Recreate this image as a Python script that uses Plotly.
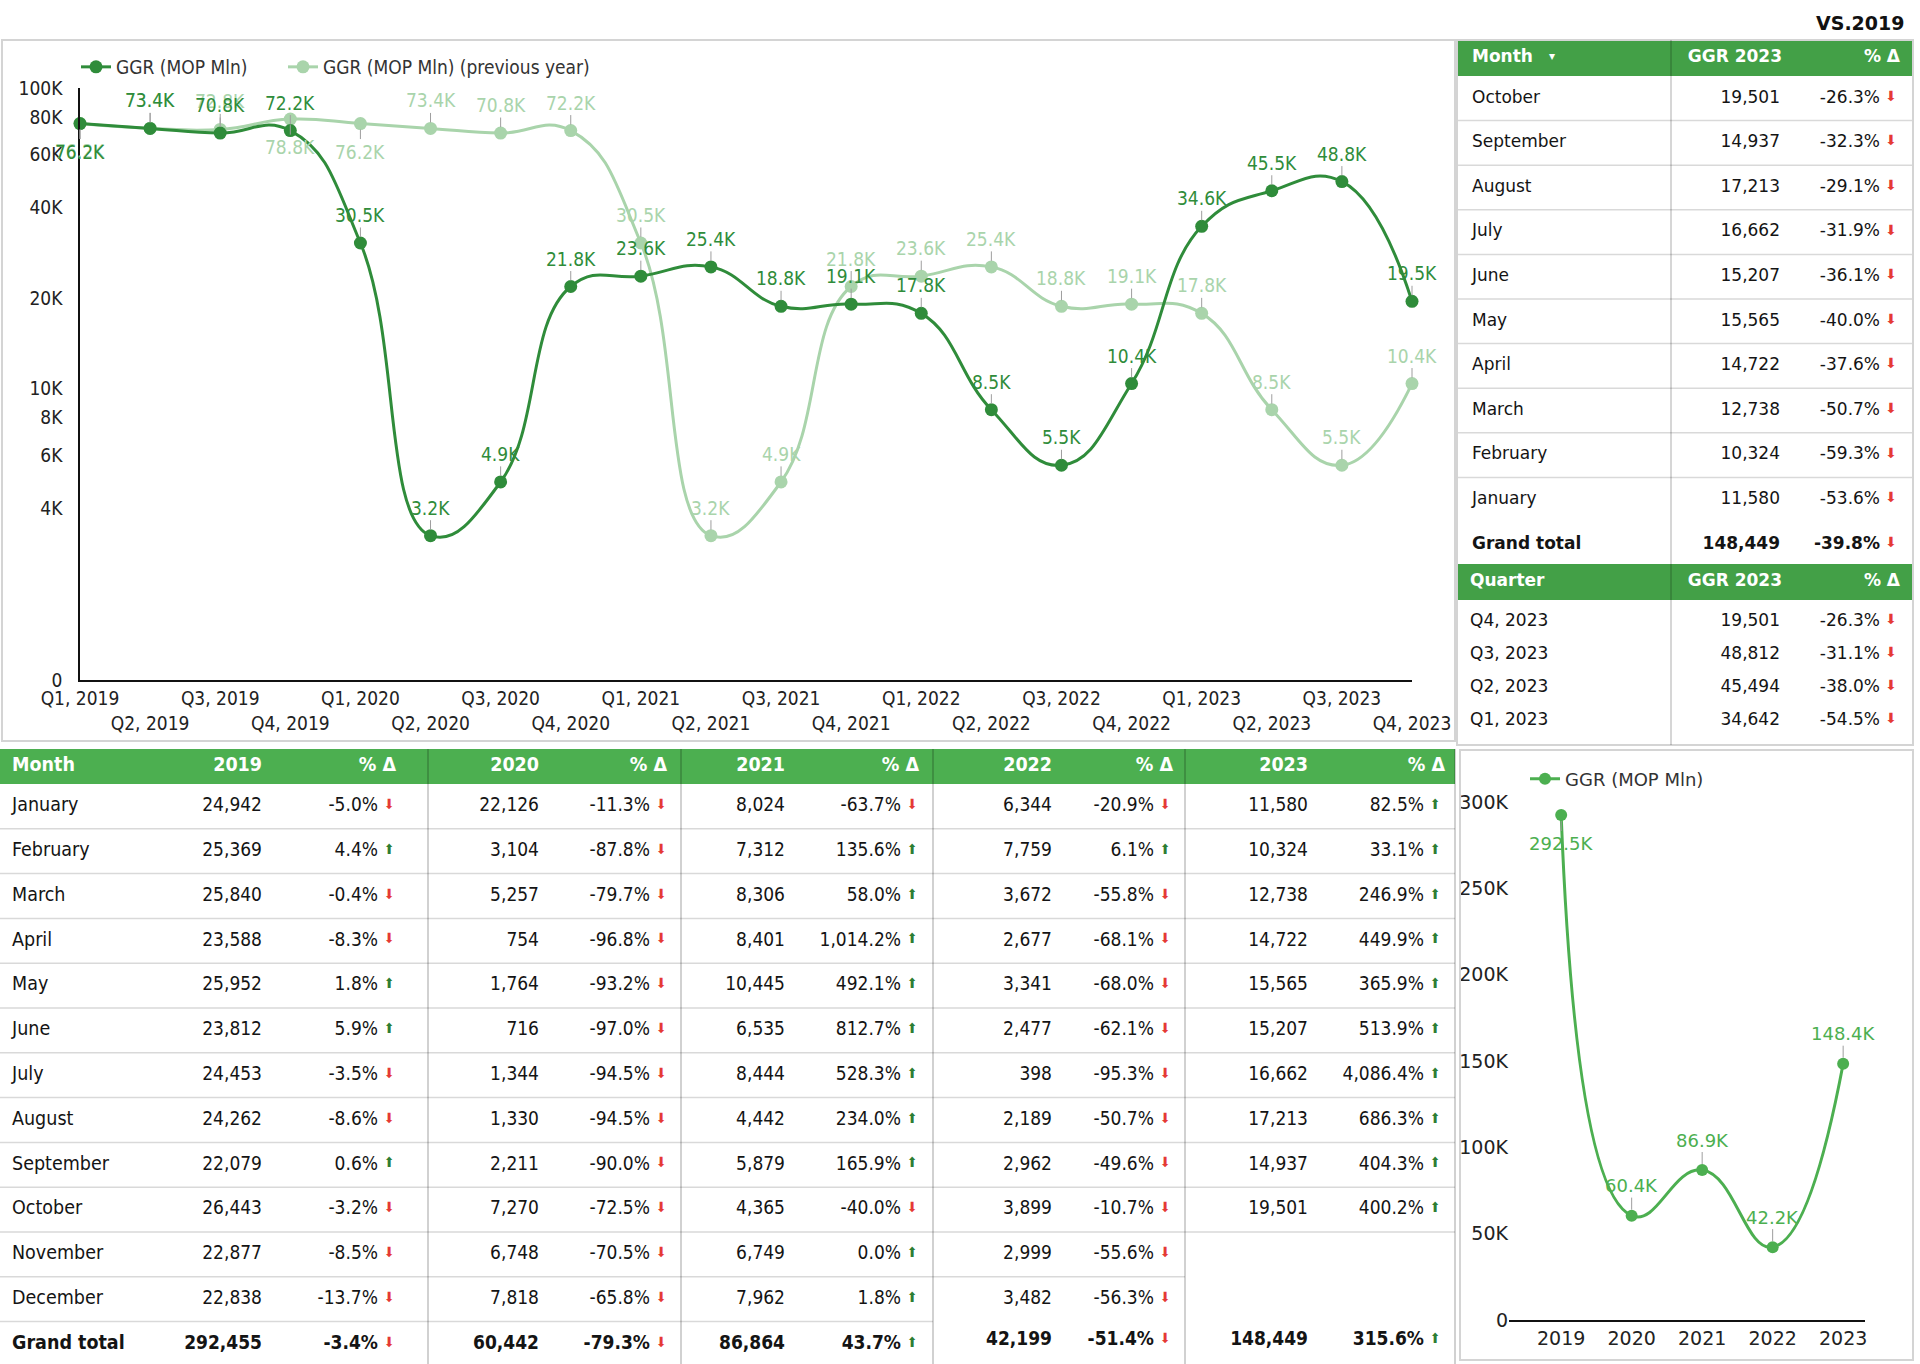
import math
import plotly.graph_objects as go

# ---------------- DATA ----------------
quarters = ["Q1, 2019", "Q2, 2019", "Q3, 2019", "Q4, 2019",
            "Q1, 2020", "Q2, 2020", "Q3, 2020", "Q4, 2020",
            "Q1, 2021", "Q2, 2021", "Q3, 2021", "Q4, 2021",
            "Q1, 2022", "Q2, 2022", "Q3, 2022", "Q4, 2022",
            "Q1, 2023", "Q2, 2023", "Q3, 2023", "Q4, 2023"]
ggr_q = [76151, 73352, 70794, 72158, 30487, 3234, 4885, 21836,
         23642, 25381, 18765, 19076, 17775, 8495, 5549, 10380,
         34642, 45494, 48812, 19501]
ggr_prev_q = [76200, 73400, 72800, 78800, 76151, 73352, 70794, 72158,
              30487, 3234, 4885, 21836, 23642, 25381, 18765, 19076,
              17775, 8495, 5549, 10380]
ggr_label_pos = ["below"] + ["above"] * 19
prev_label_pos = ["below", "above", "above", "below", "below"] + ["above"] * 15
ytick_vals = [1070, 4000, 6000, 8000, 10000, 20000, 40000, 60000, 80000, 100000]
ytick_text = ["0", "4K", "6K", "8K", "10K", "20K", "40K", "60K", "80K", "100K"]

years = ["2019", "2020", "2021", "2022", "2023"]
ggr_year = [292455, 60442, 86864, 42199, 148449]
year_label_pos = ["below", "above", "above", "above", "above"]
y2tick_vals = [0, 50000, 100000, 150000, 200000, 250000, 300000]
y2tick_text = ["0", "50K", "100K", "150K", "200K", "250K", "300K"]

tr_headers = ["Month", "GGR 2023", "% Δ"]
tr_months = ["October", "September", "August", "July", "June", "May",
             "April", "March", "February", "January"]
tr_ggr = [19501, 14937, 17213, 16662, 15207, 15565, 14722, 12738, 10324, 11580]
tr_pct = [-26.3, -32.3, -29.1, -31.9, -36.1, -40.0, -37.6, -50.7, -59.3, -53.6]
tr_total = 148449
tr_total_pct = -39.8
tq_headers = ["Quarter", "GGR 2023", "% Δ"]
tr_quarters = ["Q4, 2023", "Q3, 2023", "Q2, 2023", "Q1, 2023"]
tr_q_ggr = [19501, 48812, 45494, 34642]
tr_q_pct = [-26.3, -31.1, -38.0, -54.5]

months = ["January", "February", "March", "April", "May", "June", "July",
          "August", "September", "October", "November", "December"]
table_years = ["2019", "2020", "2021", "2022", "2023"]
v2019 = [24942, 25369, 25840, 23588, 25952, 23812, 24453, 24262, 22079, 26443, 22877, 22838]
p2019 = [-5.0, 4.4, -0.4, -8.3, 1.8, 5.9, -3.5, -8.6, 0.6, -3.2, -8.5, -13.7]
v2020 = [22126, 3104, 5257, 754, 1764, 716, 1344, 1330, 2211, 7270, 6748, 7818]
p2020 = [-11.3, -87.8, -79.7, -96.8, -93.2, -97.0, -94.5, -94.5, -90.0, -72.5, -70.5, -65.8]
v2021 = [8024, 7312, 8306, 8401, 10445, 6535, 8444, 4442, 5879, 4365, 6749, 7962]
p2021 = [-63.7, 135.6, 58.0, 1014.2, 492.1, 812.7, 528.3, 234.0, 165.9, -40.0, 0.0, 1.8]
v2022 = [6344, 7759, 3672, 2677, 3341, 2477, 398, 2189, 2962, 3899, 2999, 3482]
p2022 = [-20.9, 6.1, -55.8, -68.1, -68.0, -62.1, -95.3, -50.7, -49.6, -10.7, -55.6, -56.3]
v2023 = [11580, 10324, 12738, 14722, 15565, 15207, 16662, 17213, 14937, 19501]
p2023 = [82.5, 33.1, 246.9, 449.9, 365.9, 513.9, 4086.4, 686.3, 404.3, 400.2]
year_totals = [292455, 60442, 86864, 42199, 148449]
year_total_pct = [-3.4, -79.3, 43.7, -51.4, 315.6]

# ---------------- STYLE ----------------
W, H = 1920, 1364
DARK = "#2f8c3a"
LIGHT = "#a9d4ab"
MID = "#4caf50"
HDR_TOP = "#43a047"
HDR_BOT = "#4caf50"
RED = "#e53935"
UPG = "#2e7d32"
TXT = "#141414"
COND = "DejaVu Sans Condensed, DejaVu Sans, sans-serif"
WIDE = "DejaVu Sans, Verdana, sans-serif"
GRID = "#d9d9d9"
FRAME = "#d4d4d4"
ARROW_SIZE = 14
B_FONT = 19
B_NAME_FONT = 19.5


def px_x(x):
    return x / W


def px_y(y):
    return 1 - y / H


def fmt_k(v):
    return f"{v/1000:.1f}K"


def fmt_pct(p):
    return f"{p:,.1f}%"


def arrow(p):
    return "⬆" if p >= 0 else "⬇"


def arrow_col(p):
    return UPG if p >= 0 else RED


fig = go.Figure()

# ---------------- TOP-LEFT CHART ----------------
fig.add_trace(go.Scatter(
    x=quarters, y=ggr_prev_q, name="GGR (MOP Mln) (previous year)",
    mode="lines+markers", line=dict(color=LIGHT, width=3, shape="spline", smoothing=1.3),
    marker=dict(size=13, color=LIGHT), cliponaxis=False, legend="legend3",
    xaxis="x", yaxis="y", hoverinfo="skip"))
fig.add_trace(go.Scatter(
    x=quarters, y=ggr_q, name="GGR (MOP Mln)",
    mode="lines+markers", line=dict(color=DARK, width=3, shape="spline", smoothing=1.3),
    marker=dict(size=13, color=DARK), cliponaxis=False, legend="legend",
    xaxis="x", yaxis="y", hoverinfo="skip"))

annotations = []
for series, poss, col in ((ggr_prev_q, prev_label_pos, LIGHT), (ggr_q, ggr_label_pos, DARK)):
    for q, v, pos in zip(quarters, series, poss):
        annotations.append(dict(
            x=q, y=math.log10(v), xref="x", yref="y", text=fmt_k(v),
            showarrow=True, arrowhead=0, arrowwidth=1, arrowcolor="#9e9e9e",
            ax=0, ay=-28 if pos == "above" else 28, standoff=6,
            font=dict(family=COND, size=19, color=col)))

xt_text = [q if i % 2 == 0 else "<br>" + q for i, q in enumerate(quarters)]

# ---------------- BOTTOM-RIGHT CHART ----------------
fig.add_trace(go.Scatter(
    x=years, y=ggr_year, name="GGR (MOP Mln)",
    mode="lines+markers", line=dict(color=MID, width=3, shape="spline", smoothing=1.3),
    marker=dict(size=12, color=MID), cliponaxis=False, legend="legend2",
    xaxis="x2", yaxis="y2", hoverinfo="skip"))
for i, (yr, v, pos) in enumerate(zip(years, ggr_year, year_label_pos)):
    annotations.append(dict(
        x=i, y=v, xref="x2", yref="y2", text=fmt_k(v),
        showarrow=True, arrowhead=0, arrowwidth=1, arrowcolor="#9e9e9e",
        ax=0, ay=-30 if pos == "above" else 28, standoff=6,
        font=dict(family=WIDE, size=18, color=MID)))

# ---------------- TABLES (text on a page-pixel overlay axis) ----------------
shapes = []


def add_text(xs, ys, texts, pos, size, color, family):
    fig.add_trace(go.Scatter(
        x=xs, y=ys, text=texts, mode="text", textposition=pos,
        textfont=dict(size=size, color=color, family=family),
        xaxis="x3", yaxis="y3", hoverinfo="skip", showlegend=False, cliponaxis=False))


def rect(x0, y0, x1, y1, fill, line=None, layer="below"):
    shapes.append(dict(type="rect", xref="x3", yref="y3", x0=x0, x1=x1, y0=y0, y1=y1,
                       fillcolor=fill, line=dict(width=0) if line is None else line,
                       layer=layer))


def seg(x0, y0, x1, y1, color=GRID, width=1.5):
    shapes.append(dict(type="line", xref="x3", yref="y3", x0=x0, x1=x1, y0=y0, y1=y1,
                       line=dict(color=color, width=width), layer="above"))


# --- top-right month table ---
TR_X0, TR_X1 = 1457, 1913
TR_TOP, TR_HDR_H, TR_ROW_H = 40, 36, 44.6
TR_LEFT, TR_VAL_R, TR_PCT_R, TR_ARR_X = 1472, 1780, 1880, 1891
TR_HDR_VAL_R, TR_HDR_PCT_R = 1782, 1900

rect(TR_X0, TR_TOP, TR_X1, TR_TOP + TR_HDR_H, HDR_TOP)
hy = TR_TOP + TR_HDR_H / 2
add_text([TR_LEFT], [hy], [f"<b>{tr_headers[0]}</b>"], "middle right", 17, "white", WIDE)
add_text([1552], [hy - 1], ["▾"], "middle center", 12, "white", WIDE)
add_text([TR_HDR_VAL_R, TR_HDR_PCT_R], [hy, hy],
         [f"<b>{tr_headers[1]}</b>", f"<b>{tr_headers[2]}</b>"], "middle left", 17, "white", WIDE)

n_tr = len(tr_months)
tr_y = [TR_TOP + TR_HDR_H + (i + 0.5) * TR_ROW_H for i in range(n_tr + 1)]
tr_lbl = tr_months + ["<b>Grand total</b>"]
tr_val = [f"{v:,}" for v in tr_ggr] + [f"<b>{tr_total:,}</b>"]
tr_pc = [fmt_pct(p) for p in tr_pct] + [f"<b>{fmt_pct(tr_total_pct)}</b>"]
tr_all_pct = tr_pct + [tr_total_pct]
add_text([TR_LEFT] * (n_tr + 1), tr_y, tr_lbl, "middle right", 17, TXT, WIDE)
add_text([TR_VAL_R] * (n_tr + 1), tr_y, tr_val, "middle left", 17, TXT, WIDE)
add_text([TR_PCT_R] * (n_tr + 1), tr_y, tr_pc, "middle left", 17, TXT, WIDE)
add_text([TR_ARR_X] * (n_tr + 1), [y - 1 for y in tr_y], [arrow(p) for p in tr_all_pct],
         "middle center", ARROW_SIZE, [arrow_col(p) for p in tr_all_pct], WIDE)
for k in range(1, n_tr):
    seg(TR_X0, TR_TOP + TR_HDR_H + k * TR_ROW_H, TR_X1, TR_TOP + TR_HDR_H + k * TR_ROW_H)

# --- top-right quarter table ---
TQ_TOP, TQ_HDR_H, TQ_ROW_H, TQ_PAD = 564, 36, 32.8, 5.5
rect(TR_X0, TQ_TOP, TR_X1, TQ_TOP + TQ_HDR_H, HDR_TOP)
qy = TQ_TOP + TQ_HDR_H / 2
add_text([1470], [qy], [f"<b>{tq_headers[0]}</b>"], "middle right", 17, "white", WIDE)
add_text([TR_HDR_VAL_R, TR_HDR_PCT_R], [qy, qy],
         [f"<b>{tq_headers[1]}</b>", f"<b>{tq_headers[2]}</b>"], "middle left", 17, "white", WIDE)
n_q = len(tr_quarters)
tq_y = [TQ_TOP + TQ_HDR_H + TQ_PAD + (i + 0.5) * TQ_ROW_H for i in range(n_q)]
add_text([1470] * n_q, tq_y, tr_quarters, "middle right", 17, TXT, WIDE)
add_text([TR_VAL_R] * n_q, tq_y, [f"{v:,}" for v in tr_q_ggr], "middle left", 17, TXT, WIDE)
add_text([TR_PCT_R] * n_q, tq_y, [fmt_pct(p) for p in tr_q_pct], "middle left", 17, TXT, WIDE)
add_text([TR_ARR_X] * n_q, [y - 1 for y in tq_y], [arrow(p) for p in tr_q_pct],
         "middle center", ARROW_SIZE, [arrow_col(p) for p in tr_q_pct], WIDE)

# top-right frame + column rule
rect(TR_X0, TR_TOP, TR_X1, 745, "rgba(0,0,0,0)", line=dict(color=FRAME, width=2), layer="above")
seg(1671, TR_TOP, 1671, 745, color="rgba(0,0,0,0.16)", width=2)

# --- bottom monthly table ---
B_TOP, B_HDR_H, B_ROW_H = 749, 35, 44.8
B_X1 = 1455
B_MONTH_X = 12
grp_edges = [0, 428, 681, 933, 1185, 1455]
grp_val_r = [262, 539, 785, 1052, 1308]
grp_pct_r = [378, 650, 901, 1154, 1424]
grp_hdr_pct_r = [396, 667, 919, 1173, 1445]
grp_rule_rows = [12, 12, 12, 11, 10]
grp_total_dy = [0, 0, 0, -4, -4]
grp_vals = [v2019, v2020, v2021, v2022, v2023]
grp_pcts = [p2019, p2020, p2021, p2022, p2023]

rect(0, B_TOP, B_X1, B_TOP + B_HDR_H, HDR_BOT)
by = B_TOP + B_HDR_H / 2
add_text([B_MONTH_X], [by], ["<b>Month</b>"], "middle right", B_NAME_FONT, "white", COND)
add_text(grp_val_r, [by] * 5, [f"<b>{y}</b>" for y in table_years], "middle left",
         B_NAME_FONT, "white", COND)
add_text(grp_hdr_pct_r, [by] * 5, ["<b>% Δ</b>"] * 5, "middle left", B_NAME_FONT, "white", COND)

row_y = [B_TOP + B_HDR_H + (i + 0.5) * B_ROW_H for i in range(len(months) + 1)]
add_text([B_MONTH_X] * (len(months) + 1), row_y, months + ["<b>Grand total</b>"],
         "middle right", B_NAME_FONT, TXT, COND)
for g in range(5):
    vals = grp_vals[g]
    pcts = grp_pcts[g]
    n = len(vals)
    ys = row_y[:n] + [row_y[-1] + grp_total_dy[g]]
    all_p = pcts + [year_total_pct[g]]
    add_text([grp_val_r[g]] * (n + 1), ys,
             [f"{v:,}" for v in vals] + [f"<b>{year_totals[g]:,}</b>"], "middle left",
             B_FONT, TXT, COND)
    add_text([grp_pct_r[g]] * (n + 1), ys,
             [fmt_pct(p) for p in pcts] + [f"<b>{fmt_pct(year_total_pct[g])}</b>"],
             "middle left", B_FONT, TXT, COND)
    add_text([grp_pct_r[g] + 11] * (n + 1), [y - 1 for y in ys], [arrow(p) for p in all_p],
             "middle center", ARROW_SIZE, [arrow_col(p) for p in all_p], COND)
    for k in range(1, grp_rule_rows[g] + 1):
        yy = B_TOP + B_HDR_H + k * B_ROW_H
        seg(grp_edges[g], yy, grp_edges[g + 1], yy)
for gx in grp_edges[1:]:
    seg(gx, B_TOP, gx, H, color="rgba(0,0,0,0.18)", width=2)

# --- panel frames ---
rect(2, 40, 1455, 741, "rgba(0,0,0,0)", line=dict(color=FRAME, width=2))
rect(1460, 750, 1913, 1360, "rgba(0,0,0,0)", line=dict(color=FRAME, width=2))

annotations.append(dict(x=px_x(1907), y=px_y(23), xref="paper", yref="paper",
                        xanchor="right", yanchor="middle", showarrow=False,
                        text="<b>VS.2019</b>", font=dict(family=WIDE, size=19, color="#111111")))

legend_common = dict(orientation="h", xanchor="left", yanchor="middle",
                     bgcolor="rgba(0,0,0,0)", itemwidth=30)

fig.update_layout(
    width=W, height=H, margin=dict(l=0, r=0, t=0, b=0, autoexpand=False),
    paper_bgcolor="white", plot_bgcolor="rgba(0,0,0,0)",
    font=dict(family=COND, size=16, color="#222222"),
    showlegend=True,
    legend=dict(x=px_x(76), y=px_y(67), font=dict(family=COND, size=19, color="#333333"),
                **legend_common),
    legend3=dict(x=px_x(283), y=px_y(67), font=dict(family=COND, size=19, color="#333333"),
                 **legend_common),
    legend2=dict(x=px_x(1525), y=px_y(779), font=dict(family=WIDE, size=18, color="#333333"),
                 **legend_common),
    xaxis=dict(domain=[px_x(80), px_x(1412)], type="category", range=[0, 19],
               tickvals=quarters, ticktext=xt_text, showgrid=False, zeroline=False,
               showline=True, linecolor="#111111", linewidth=2, ticks="",
               tickfont=dict(family=COND, size=19, color="#222222"), tickangle=0,
               anchor="y", fixedrange=True),
    yaxis=dict(domain=[px_y(680), px_y(88)], type="log", range=[math.log10(1070), 5],
               tickvals=ytick_vals, ticktext=ytick_text, showgrid=False, zeroline=False,
               showline=True, linecolor="#111111", linewidth=1.5, ticks="",
               ticklabelstandoff=12,
               tickfont=dict(family=COND, size=19, color="#222222"), anchor="x",
               fixedrange=True),
    xaxis2=dict(domain=[px_x(1509), px_x(1865)], type="category", range=[-0.74, 4.31],
                showgrid=False, zeroline=False, showline=True, linecolor="#111111",
                linewidth=2, ticks="", tickfont=dict(family=WIDE, size=19, color="#222222"),
                anchor="y2", fixedrange=True),
    yaxis2=dict(domain=[px_y(1320), px_y(802)], range=[0, 300000], tickvals=y2tick_vals,
                ticktext=y2tick_text, showgrid=False, zeroline=False, showline=False,
                ticks="", tickfont=dict(family=WIDE, size=19, color="#222222"),
                anchor="x2", fixedrange=True),
    xaxis3=dict(domain=[0, 1], range=[0, W], visible=False, anchor="y3", fixedrange=True),
    yaxis3=dict(domain=[0, 1], range=[H, 0], visible=False, anchor="x3", fixedrange=True),
    annotations=annotations,
    shapes=shapes,
)

fig.write_html("out.html", config={"displayModeBar": False},
               post_script="document.body.style.margin='0';document.body.style.overflow='hidden';")
